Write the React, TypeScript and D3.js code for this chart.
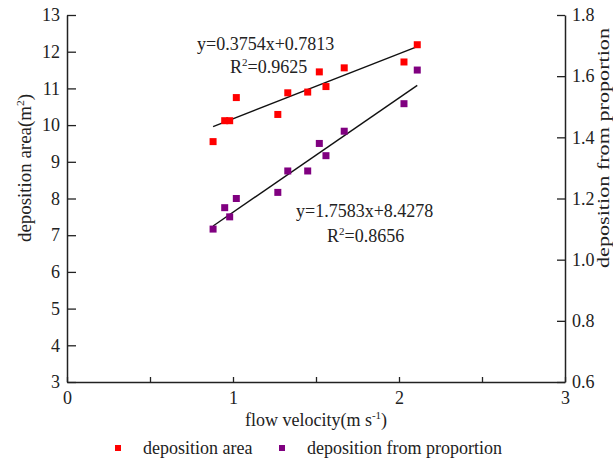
import { useEffect, useRef } from 'react';
import * as d3 from 'd3';

// data
const flowVelocity = [0.88, 0.95, 0.98, 1.02, 1.27, 1.33, 1.45, 1.52, 1.56, 1.67, 2.03, 2.11];
const depositionArea = [9.55, 10.12, 10.12, 10.75, 10.29, 10.88, 10.9, 11.45, 11.05, 11.56, 11.72, 12.19];
const depositionProportion = [1.1, 1.17, 1.14, 1.2, 1.22, 1.29, 1.29, 1.38, 1.34, 1.42, 1.51, 1.62];

// fitted lines (end points)
const fitX = [0.88, 2.11];
const areaFitY = [9.96, 12.14];
const proportionFitY = [1.11, 1.57];

const xTicks = [0, 0.5, 1, 1.5, 2, 2.5, 3];
const leftTicks = [3, 4, 5, 6, 7, 8, 9, 10, 11, 12, 13];
const rightTicks = [0.6, 0.8, 1.0, 1.2, 1.4, 1.6, 1.8];

const areaEquation = ['y=0.3754x+0.7813', '0.9625'];
const proportionEquation = ['y=1.7583x+8.4278', '0.8656'];

const seriesNames = ['deposition area', 'deposition from proportion'];
const seriesColors = ['#ff0000', '#800080'];

export default function App() {
    const ref = useRef<SVGSVGElement>(null);

    useEffect(() => {
        const width = 613;
        const height = 463;
        const left = 67;
        const right = 565;
        const top = 15;
        const bottom = 382;
        const font = '"Liberation Serif", "Times New Roman", serif';
        const ink = '#222';

        const svg = d3.select(ref.current);
        svg.selectAll('*').remove();
        svg.attr('width', width).attr('height', height)
            .style('font-family', font);

        // scales
        const x = d3.scaleLinear().domain([0, 3]).range([left, right]);
        const yLeft = d3.scaleLinear().domain([3, 13]).range([bottom, top]);
        const yRight = d3.scaleLinear().domain([0.6, 1.8]).range([bottom, top]);

        const styleAxis = (g: any) => {
            g.selectAll('path').attr('stroke', ink).attr('stroke-width', 1.5);
            g.selectAll('line').attr('stroke', ink).attr('stroke-width', 1.3);
            g.selectAll('text').attr('fill', ink).style('font-size', '18px').style('font-family', font);
        };

        // x axis
        svg.append('g')
            .attr('transform', 'translate(0,' + bottom + ')')
            .call(d3.axisBottom(x).tickValues(xTicks).tickSizeInner(-5).tickSizeOuter(0).tickPadding(9)
                .tickFormat((d: any) => (Number.isInteger(d) ? String(d) : '')))
            .call(styleAxis);

        // left axis
        svg.append('g')
            .attr('transform', 'translate(' + left + ',0)')
            .call(d3.axisLeft(yLeft).tickValues(leftTicks).tickSizeInner(-9).tickSizeOuter(0).tickPadding(7))
            .call(styleAxis);

        // right axis
        svg.append('g')
            .attr('transform', 'translate(' + right + ',0)')
            .call(d3.axisRight(yRight).tickValues(rightTicks).tickSizeInner(-8).tickSizeOuter(0).tickPadding(7)
                .tickFormat(d3.format('.1f')))
            .call(styleAxis);

        // trend lines
        const line = d3.line<number>();
        svg.append('path')
            .attr('d', line(fitX.map((v, i) => [x(v), yLeft(areaFitY[i])]) as any))
            .attr('stroke', '#111').attr('stroke-width', 1.4).attr('fill', 'none');
        svg.append('path')
            .attr('d', line(fitX.map((v, i) => [x(v), yRight(proportionFitY[i])]) as any))
            .attr('stroke', '#111').attr('stroke-width', 1.4).attr('fill', 'none');

        // points
        const size = 7;
        svg.selectAll('.area-dot')
            .data(flowVelocity).enter()
            .append('rect')
            .attr('x', (d, i) => x(d) - size / 2)
            .attr('y', (d, i) => yLeft(depositionArea[i]) - size / 2)
            .attr('width', size).attr('height', size)
            .attr('fill', seriesColors[0]);
        svg.selectAll('.prop-dot')
            .data(flowVelocity).enter()
            .append('rect')
            .attr('x', (d, i) => x(d) - size / 2)
            .attr('y', (d, i) => yRight(depositionProportion[i]) - size / 2)
            .attr('width', size).attr('height', size)
            .attr('fill', seriesColors[1]);

        // equations
        const equation = (eq: string[], ex: number, ey: number, rx: number, ry: number) => {
            svg.append('text').attr('x', ex).attr('y', ey)
                .attr('fill', ink).style('font-size', '18px').text(eq[0]);
            const r = svg.append('text').attr('x', rx).attr('y', ry)
                .attr('fill', ink).style('font-size', '18px');
            r.append('tspan').text('R');
            r.append('tspan').attr('dy', -7).style('font-size', '11px').text('2');
            r.append('tspan').attr('dy', 7).text('=' + eq[1]);
        };
        equation(areaEquation, 197, 50, 230, 73);
        equation(proportionEquation, 296, 217, 327, 242);

        // axis titles
        const lt = svg.append('text')
            .attr('transform', 'translate(31,168) rotate(-90)')
            .attr('text-anchor', 'middle')
            .attr('fill', ink).style('font-size', '18px')
            .attr('textLength', 148).attr('lengthAdjust', 'spacingAndGlyphs');
        lt.append('tspan').text('deposition area(m');
        lt.append('tspan').attr('dy', -7).style('font-size', '11px').text('2');
        lt.append('tspan').attr('dy', 7).text(')');

        svg.append('text')
            .attr('transform', 'translate(609,148) rotate(-90)')
            .attr('text-anchor', 'middle')
            .attr('fill', ink).style('font-size', '16px')
            .attr('textLength', 240).attr('lengthAdjust', 'spacingAndGlyphs')
            .text(seriesNames[1]);

        const xt = svg.append('text')
            .attr('x', 316).attr('y', 426)
            .attr('text-anchor', 'middle')
            .attr('fill', ink).style('font-size', '18px');
        xt.append('tspan').text('flow velocity(m s');
        xt.append('tspan').attr('dy', -7).style('font-size', '11px').text('-1');
        xt.append('tspan').attr('dy', 7).text(')');

        // legend
        const legendX = [118, 282];
        seriesNames.forEach((name, i) => {
            svg.append('rect')
                .attr('x', legendX[i] - 3).attr('y', 445)
                .attr('width', 6).attr('height', 6)
                .attr('fill', seriesColors[i]);
            svg.append('text')
                .attr('x', legendX[i] + 25).attr('y', 454)
                .attr('fill', ink).style('font-size', '18px')
                .text(name);
        });
    }, []);

    return (
        <svg ref={ref} style={{ position: 'absolute', left: 0, top: 0, background: '#fff' }}></svg>
    );
}
